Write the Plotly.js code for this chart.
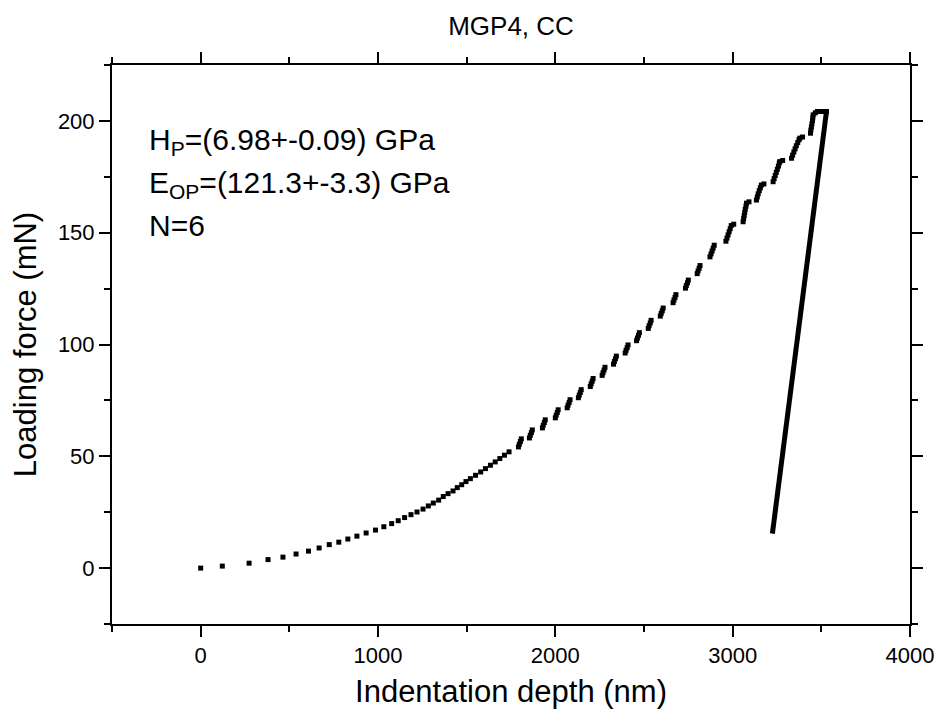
<!DOCTYPE html>
<html>
<head>
<meta charset="utf-8">
<script src="https://cdn.plot.ly/plotly-3.0.1.min.js"></script>
<style>html,body{margin:0;padding:0;background:#fff;}#chart{width:940px;height:717px;}</style>
</head>
<body>
<div id="chart"></div>
<script>
// Loading branch: indentation depth (nm) and force (mN)
const loadDepth = [
  0, 122, 273, 380, 464, 538, 608, 668, 725, 779, 830, 881, 933, 986, 1033, 1077, 1114, 1150, 1186, 1220,
  1254, 1284, 1312, 1342, 1368, 1395, 1423, 1447, 1472, 1496,
  1521, 1550, 1579, 1606, 1634, 1661, 1687, 1713, 1739,
  1792, 1797, 1803, 1808,
  1854, 1859, 1865, 1870,
  1927, 1932, 1938, 1943,
  2000, 2005, 2011, 2016,
  2067, 2072, 2078, 2083,
  2130, 2135, 2141, 2146,
  2197, 2202, 2208, 2213,
  2264, 2269, 2275, 2280,
  2328, 2333, 2339, 2344,
  2394, 2399, 2405, 2410,
  2458, 2463, 2469, 2474,
  2524, 2529, 2535, 2540,
  2592, 2597, 2603, 2608,
  2664, 2669, 2675, 2680,
  2734, 2739, 2745, 2750,
  2800, 2805, 2811, 2816,
  2872, 2878, 2884, 2890, 2896,
  2962, 2968, 2974, 2980, 2986, 2992, 3006,
  3059, 3062, 3065, 3068, 3071, 3075, 3078, 3092,
  3134, 3139, 3144, 3150, 3156, 3162, 3176,
  3228, 3234, 3240, 3246, 3252, 3258, 3263, 3266, 3282,
  3332, 3338, 3345, 3352, 3359, 3367, 3374, 3379, 3394,
  3439, 3441, 3444, 3447, 3450, 3452, 3454, 3466, 3478, 3490, 3501, 3513, 3524, 3529
];
const loadForce = [
  0, 0.9, 2.2, 3.8, 4.9, 6.3, 7.6, 9.0, 10.5, 11.6, 13.0, 14.3, 15.7, 17.0, 18.5, 19.9, 21.2, 22.6, 23.9, 25.1,
  26.4, 27.8, 29.1, 30.4, 32.0, 33.3, 34.5, 36.0, 37.3, 38.7,
  40.0, 41.5, 43.0, 44.5, 46.0, 47.5, 49.0, 50.5, 52.0,
  54.2, 55.4, 56.6, 57.8,
  58.2, 59.4, 60.6, 61.8,
  62.7, 63.9, 65.1, 66.3,
  67.2, 68.4, 69.6, 70.8,
  71.7, 72.9, 74.1, 75.3,
  76.2, 77.4, 78.6, 79.8,
  81.2, 82.4, 83.6, 84.8,
  86.2, 87.4, 88.6, 89.8,
  91.2, 92.4, 93.6, 94.8,
  96.2, 97.4, 98.6, 99.8,
  101.7, 102.9, 104.1, 105.3,
  107.2, 108.4, 109.6, 110.8,
  112.7, 113.9, 115.1, 116.3,
  118.7, 119.9, 121.1, 122.3,
  125.2, 126.4, 127.6, 128.8,
  131.7, 132.9, 134.1, 135.3,
  139.2, 140.5, 141.8, 143.1, 144.4,
  146.2, 147.6, 149.0, 150.4, 151.8, 153.2, 153.8,
  154.9, 156.3, 157.7, 159.1, 160.5, 161.9, 163.2, 163.8,
  164.6, 166.0, 167.4, 168.8, 170.1, 171.3, 171.8,
  172.8, 174.2, 175.6, 177.0, 178.4, 179.8, 181.2, 181.8, 182.3,
  183.3, 184.7, 186.1, 187.5, 188.9, 190.3, 191.6, 192.3, 192.8,
  194.5, 195.9, 197.3, 198.7, 200.1, 201.4, 202.7, 203.6, 204.2, 204.2, 204.2, 204.2, 204.2, 204.2
];
// Unloading branch
const unloadDepth = [3529, 3464, 3401, 3340, 3282, 3224];
const unloadForce = [204.2, 164.0, 124.3, 88.0, 52.0, 15.4];

const xTickVals = [0, 1000, 2000, 3000, 4000];
const yTickVals = [0, 50, 100, 150, 200];

const chartTitle = 'MGP4, CC';
const xTitle = 'Indentation depth (nm)';
const yTitle = 'Loading force (mN)';
const infoLines = [
  'H<sub>P</sub>=(6.98+-0.09) GPa',
  'E<sub>OP</sub>=(121.3+-3.3) GPa',
  'N=6'
];

const FONT = 'Liberation Sans, Arial, Helvetica, sans-serif';

const traces = [
  {
    x: loadDepth, y: loadForce, type: 'scatter', mode: 'markers',
    marker: {symbol: 'square', size: 5, color: '#000', line: {width: 0}},
    showlegend: false
  },
  {
    x: unloadDepth, y: unloadForce, type: 'scatter', mode: 'lines',
    line: {color: '#000', width: 5},
    showlegend: false
  }
];

const axisCommon = {
  showgrid: false, zeroline: false,
  showline: true, linecolor: '#000', linewidth: 2,
  mirror: 'ticks', ticks: 'outside', ticklen: 11, tickwidth: 2, tickcolor: '#000',
  tickfont: {family: FONT, size: 22, color: '#000'}
};

const layout = {
  width: 940, height: 717,
  margin: {l: 112, r: 30, t: 65, b: 93},
  paper_bgcolor: '#fff', plot_bgcolor: '#fff',
  font: {family: FONT, color: '#000'},
  title: {text: chartTitle, font: {family: FONT, size: 26, color: '#000'},
          x: 0.5, xref: 'paper', xanchor: 'center', y: 0.964, yref: 'container', yanchor: 'middle'},
  xaxis: Object.assign({}, axisCommon, {
    range: [-500, 4000], tickvals: xTickVals, ticktext: xTickVals.map(String),
    minor: {dtick: 500, tick0: 0, ticks: 'outside', ticklen: 6, tickwidth: 2, tickcolor: '#000'},
    title: {text: xTitle, font: {family: FONT, size: 31, color: '#000'}, standoff: 13}
  }),
  yaxis: Object.assign({}, axisCommon, {
    range: [-25, 225], tickvals: yTickVals, ticktext: yTickVals.map(String),
    minor: {dtick: 25, tick0: 0, ticks: 'outside', ticklen: 6, tickwidth: 2, tickcolor: '#000'},
    title: {text: yTitle, font: {family: FONT, size: 31, color: '#000'}, standoff: 12}
  }),
  annotations: infoLines.map((t, i) => ({
    text: t, xref: 'paper', yref: 'paper', x: 0.044, y: [0.864, 0.787, 0.712][i],
    xanchor: 'left', yanchor: 'middle', showarrow: false,
    font: {family: FONT, size: 30, color: '#000'}
  }))
};

Plotly.newPlot('chart', traces, layout, {displayModeBar: false, staticPlot: true});
</script>
</body>
</html>
